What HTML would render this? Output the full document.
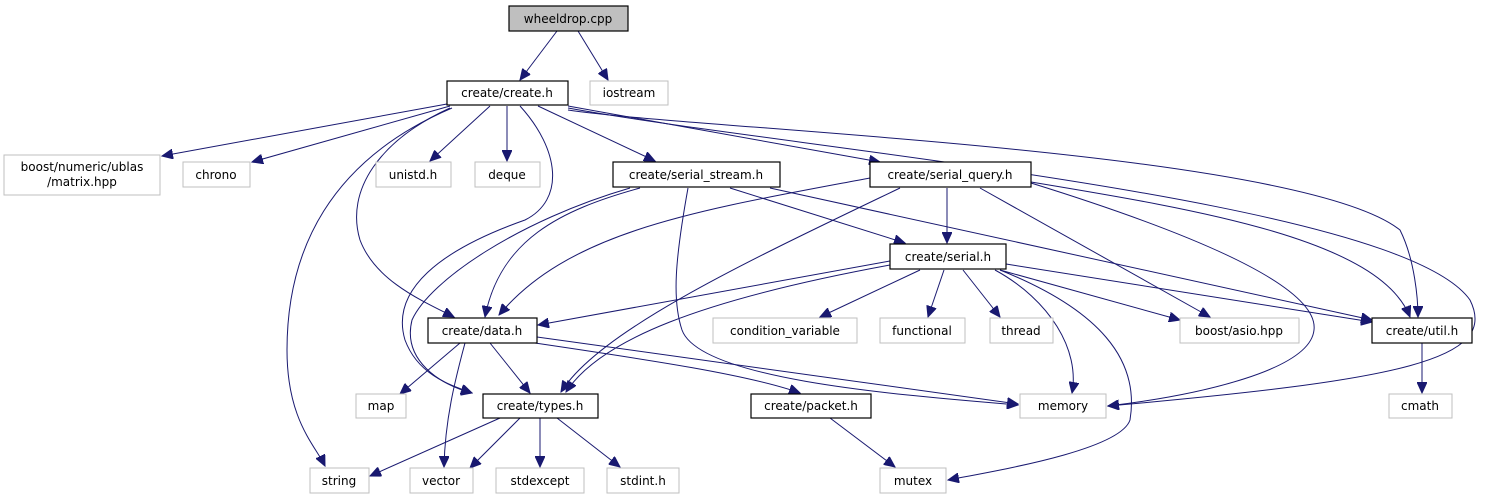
<!DOCTYPE html>
<html><head><meta charset="utf-8"><style>
html,body{margin:0;padding:0;background:#fff;}
svg{display:block;}
text{font-family:"DejaVu Sans","Liberation Sans",sans-serif;font-size:12px;fill:#000;}
.b{fill:#fff;stroke:#000;stroke-width:1.2;}
.g{fill:#fff;stroke:#bfbfbf;stroke-width:1;}
.e{fill:none;stroke:#191970;stroke-width:1;marker-end:url(#a);}
</style></head><body>
<svg width="1496" height="500" viewBox="0 0 1496 500" xmlns="http://www.w3.org/2000/svg">
<defs><marker id="a" markerWidth="12" markerHeight="10" refX="11" refY="5" orient="auto" markerUnits="userSpaceOnUse"><path d="M0,0 L11,5 L0,10 z" fill="#191970" stroke="#191970"/></marker></defs>
<g>
<path class="e" d="M557,31 L520,80"/>
<path class="e" d="M578,31 L608,80"/>
<path class="e" d="M447,104 L162,156"/>
<path class="e" d="M450,106 L252,162"/>
<path class="e" d="M490,106 L430,161"/>
<path class="e" d="M507,106 L507,161"/>
<path class="e" d="M538,106 L655,161"/>
<path class="e" d="M568,106 L880,162"/>
<path class="e" d="M452,108 C330,160 287,250 287,350 C287,420 315,445 325,466"/>
<path class="e" d="M450,108 C380,140 345,190 360,240 C375,280 420,300 454,317"/>
<path class="e" d="M520,106 C560,150 565,200 525,220 C440,250 390,290 405,340 C418,375 450,385 472,393"/>
<path class="e" d="M568,110 C700,130 1300,150 1400,230 C1415,260 1418,300 1418,317"/>
<path class="e" d="M568,108 C800,150 1400,200 1470,300 C1500,360 1400,380 1108,406"/>
<path class="e" d="M640,188 C560,210 500,240 485,317"/>
<path class="e" d="M630,188 C520,220 430,280 412,320 C402,360 440,385 472,393"/>
<path class="e" d="M730,188 L905,243"/>
<path class="e" d="M688,188 C675,260 672,300 682,330 C700,380 900,395 1018,405"/>
<path class="e" d="M770,188 L1372,320"/>
<path class="e" d="M870,178 C700,210 570,230 499,315"/>
<path class="e" d="M900,188 C750,260 600,330 561,392"/>
<path class="e" d="M947,188 L947,243"/>
<path class="e" d="M980,188 L1210,317"/>
<path class="e" d="M1031,183 C1150,220 1320,280 1314,330 C1310,370 1200,395 1108,406"/>
<path class="e" d="M1031,182 C1200,210 1380,240 1410,317"/>
<path class="e" d="M890,261 L538,325"/>
<path class="e" d="M890,265 C700,300 600,340 566,392"/>
<path class="e" d="M920,270 L820,317"/>
<path class="e" d="M944,270 L928,317"/>
<path class="e" d="M963,270 L1000,317"/>
<path class="e" d="M1000,270 L1180,320"/>
<path class="e" d="M1006,264 L1372,322"/>
<path class="e" d="M995,270 C1050,300 1080,350 1072,393"/>
<path class="e" d="M1000,270 C1100,310 1140,360 1130,420 C1120,450 1000,470 948,480"/>
<path class="e" d="M460,343 L400,394"/>
<path class="e" d="M465,343 C455,380 445,420 444,467"/>
<path class="e" d="M490,343 L530,393"/>
<path class="e" d="M535,343 C650,360 750,375 800,393"/>
<path class="e" d="M537,337 L1018,404"/>
<path class="e" d="M500,418 L370,476"/>
<path class="e" d="M520,418 L470,468"/>
<path class="e" d="M540,418 L540,467"/>
<path class="e" d="M557,418 L620,467"/>
<path class="e" d="M830,418 L895,467"/>
<path class="e" d="M1422,343 L1422,393"/>
</g>
<g>
<rect x="509" y="6" width="119" height="25" fill="#bfbfbf" stroke="#000" stroke-width="1.2"/><text x="568" y="23" text-anchor="middle">wheeldrop.cpp</text>
<rect class="b" x="447" y="81" width="121" height="24"/><text x="507" y="97" text-anchor="middle">create/create.h</text>
<rect class="g" x="590" y="81" width="78" height="24"/><text x="629" y="97" text-anchor="middle">iostream</text>
<rect class="g" x="4" y="155" width="156" height="40"/><text x="82" y="171" text-anchor="middle">boost/numeric/ublas</text><text x="82" y="186" text-anchor="middle">/matrix.hpp</text>
<rect class="g" x="183" y="162" width="67" height="25"/><text x="216" y="179" text-anchor="middle">chrono</text>
<rect class="g" x="376" y="162" width="75" height="25"/><text x="413" y="179" text-anchor="middle">unistd.h</text>
<rect class="g" x="475" y="162" width="65" height="25"/><text x="507" y="179" text-anchor="middle">deque</text>
<rect class="b" x="613" y="162" width="167" height="25"/><text x="696" y="179" text-anchor="middle">create/serial_stream.h</text>
<rect class="b" x="870" y="162" width="161" height="25"/><text x="950" y="179" text-anchor="middle">create/serial_query.h</text>
<rect class="b" x="890" y="244" width="116" height="25"/><text x="948" y="261" text-anchor="middle">create/serial.h</text>
<rect class="b" x="428" y="318" width="109" height="25"/><text x="482" y="335" text-anchor="middle">create/data.h</text>
<rect class="g" x="713" y="318" width="144" height="25"/><text x="785" y="335" text-anchor="middle">condition_variable</text>
<rect class="g" x="880" y="318" width="85" height="25"/><text x="922" y="335" text-anchor="middle">functional</text>
<rect class="g" x="990" y="318" width="63" height="25"/><text x="1021" y="335" text-anchor="middle">thread</text>
<rect class="g" x="1180" y="318" width="119" height="25"/><text x="1239" y="335" text-anchor="middle">boost/asio.hpp</text>
<rect class="b" x="1372" y="318" width="100" height="25"/><text x="1422" y="335" text-anchor="middle">create/util.h</text>
<rect class="g" x="356" y="394" width="50" height="24"/><text x="381" y="410" text-anchor="middle">map</text>
<rect class="b" x="483" y="394" width="115" height="24"/><text x="540" y="410" text-anchor="middle">create/types.h</text>
<rect class="b" x="751" y="394" width="120" height="24"/><text x="811" y="410" text-anchor="middle">create/packet.h</text>
<rect class="g" x="1020" y="394" width="86" height="24"/><text x="1063" y="410" text-anchor="middle">memory</text>
<rect class="g" x="1389" y="394" width="63" height="24"/><text x="1420" y="410" text-anchor="middle">cmath</text>
<rect class="g" x="310" y="468" width="59" height="25"/><text x="339" y="485" text-anchor="middle">string</text>
<rect class="g" x="410" y="468" width="63" height="25"/><text x="441" y="485" text-anchor="middle">vector</text>
<rect class="g" x="496" y="468" width="88" height="25"/><text x="540" y="485" text-anchor="middle">stdexcept</text>
<rect class="g" x="607" y="468" width="72" height="25"/><text x="643" y="485" text-anchor="middle">stdint.h</text>
<rect class="g" x="880" y="468" width="66" height="25"/><text x="913" y="485" text-anchor="middle">mutex</text>
</g>
</svg>
</body></html>
